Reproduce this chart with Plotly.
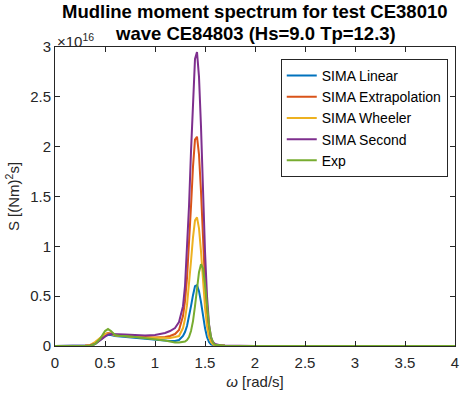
import plotly.graph_objects as go

# angular frequency grid [rad/s]
omega = [0, 0.1, 0.2, 0.3, 0.35, 0.4, 0.45, 0.5, 0.53, 0.56, 0.6, 0.65, 0.7, 0.8, 0.9,
         1.0, 1.1, 1.15, 1.2, 1.24, 1.28, 1.30, 1.32, 1.34, 1.36, 1.38, 1.40, 1.42,
         1.44, 1.46, 1.48, 1.50, 1.52, 1.54, 1.56, 1.58, 1.60, 1.65, 1.7, 1.8, 2.0,
         2.5, 3.0, 3.5, 4.0]

# spectra in units of 1e16 (Nm)^2 s
sima_linear = [0, 0, 0, 0.001, 0.005, 0.02, 0.06, 0.10, 0.11, 0.11, 0.10, 0.095, 0.09, 0.085, 0.075,
               0.065, 0.055, 0.05, 0.05, 0.06, 0.10, 0.14, 0.20, 0.29, 0.40, 0.51, 0.60, 0.61,
               0.55, 0.44, 0.30, 0.18, 0.09, 0.04, 0.017, 0.007, 0.003, 0.001, 0.0005, 0.0002, 0.0001,
               0, 0, 0, 0]
sima_extrap = [0, 0, 0, 0.002, 0.008, 0.03, 0.075, 0.12, 0.13, 0.125, 0.11, 0.105, 0.10, 0.095, 0.09,
               0.085, 0.09, 0.10, 0.12, 0.16, 0.30, 0.45, 0.68, 1.00, 1.40, 1.80, 2.07, 2.10,
               1.92, 1.55, 1.08, 0.64, 0.33, 0.15, 0.06, 0.025, 0.012, 0.005, 0.003, 0.001, 0.0005,
               0, 0, 0, 0]
sima_wheeler = [0, 0, 0, 0.003, 0.01, 0.04, 0.08, 0.12, 0.125, 0.12, 0.105, 0.10, 0.095, 0.09, 0.085,
                0.08, 0.075, 0.08, 0.09, 0.10, 0.18, 0.27, 0.41, 0.60, 0.85, 1.09, 1.26, 1.29,
                1.18, 0.95, 0.66, 0.39, 0.20, 0.09, 0.04, 0.015, 0.007, 0.003, 0.002, 0.001, 0.0005,
                0, 0, 0, 0]
sima_second = [0, 0, 0, 0.001, 0.005, 0.02, 0.06, 0.10, 0.115, 0.12, 0.12, 0.118, 0.115, 0.11, 0.105,
               0.11, 0.13, 0.15, 0.18, 0.24, 0.40, 0.60, 0.95, 1.40, 1.95, 2.50, 2.88, 2.95,
               2.70, 2.20, 1.55, 0.95, 0.50, 0.22, 0.09, 0.04, 0.02, 0.008, 0.004, 0.002, 0.001,
               0, 0, 0, 0]
exp_data = [0, 0, 0, 0.001, 0.003, 0.02, 0.07, 0.15, 0.17, 0.15, 0.11, 0.10, 0.10, 0.09, 0.08,
            0.07, 0.055, 0.045, 0.035, 0.035, 0.04, 0.045, 0.06, 0.09, 0.15, 0.25, 0.40, 0.58,
            0.74, 0.82, 0.78, 0.62, 0.40, 0.21, 0.09, 0.035, 0.012, 0.004, 0.002, 0.001, 0.0005,
            0, 0, 0, 0]

names = ["SIMA Linear", "SIMA Extrapolation", "SIMA Wheeler", "SIMA Second", "Exp"]
colors = ["#0072BD", "#D95319", "#EDB120", "#7E2F8E", "#77AC30"]
series = [sima_linear, sima_extrap, sima_wheeler, sima_second, exp_data]

x_ticks = [0, 0.5, 1, 1.5, 2, 2.5, 3, 3.5, 4]
y_ticks = [0, 0.5, 1, 1.5, 2, 2.5, 3]

title_lines = ["Mudline moment spectrum for test CE38010", "wave CE84803 (Hs=9.0 Tp=12.3)"]

fig = go.Figure()
for n, c, s in zip(names, colors, series):
    fig.add_trace(go.Scatter(x=omega, y=s, mode="lines", name=n,
                             line=dict(color=c, width=2)))

axcol = "#262626"
font = "Liberation Sans, Arial, sans-serif"
fig.update_layout(
    width=461, height=396,
    margin=dict(l=55, r=2, t=47, b=50),
    paper_bgcolor="white", plot_bgcolor="white",
    font=dict(family=font, size=15, color=axcol),
    xaxis=dict(range=[0, 4], tickvals=x_ticks, ticktext=[f"{v:g}" for v in x_ticks],
               showline=True, linecolor=axcol, linewidth=1, mirror="ticks",
               ticks="inside", ticklen=5, tickcolor=axcol, showgrid=False, zeroline=False,
               ticklabeloverflow="allow", tickfont=dict(size=15), ticklabelstandoff=3,
               title=dict(text="<i>ω</i> [rad/s]", standoff=6, font=dict(size=15))),
    yaxis=dict(range=[0, 3], tickvals=y_ticks, ticktext=[f"{v:g}" for v in y_ticks],
               showline=True, linecolor=axcol, linewidth=1, mirror="ticks",
               ticks="inside", ticklen=5, tickcolor=axcol, showgrid=False, zeroline=False,
               tickfont=dict(size=15),
               title=dict(text="S [(Nm)<sup>2</sup>s]", standoff=6, font=dict(size=15))),
    legend=dict(x=0.5644, y=0.96, xanchor="left", yanchor="top",
                bgcolor="white", bordercolor=axcol, borderwidth=1,
                font=dict(size=14, color="black"), tracegroupgap=0),
    showlegend=True,
)
fig.add_annotation(text="<b>" + title_lines[0] + "</b>", xref="paper", yref="paper",
                   x=0.5, y=1.12, xanchor="center", yanchor="middle", showarrow=False,
                   font=dict(size=18.5, color="black", family=font))
fig.add_annotation(text="<b>" + title_lines[1] + "</b>", xref="paper", yref="paper",
                   x=0.5, y=1.0435, xanchor="center", yanchor="middle", showarrow=False,
                   font=dict(size=18.5, color="black", family=font))
fig.add_annotation(text="×10<sup>16</sup>", xref="paper", yref="paper", x=0, y=1,
                   xanchor="left", yanchor="bottom", showarrow=False,
                   font=dict(size=15, color=axcol), yshift=-5)

fig.write_html("out.html")
